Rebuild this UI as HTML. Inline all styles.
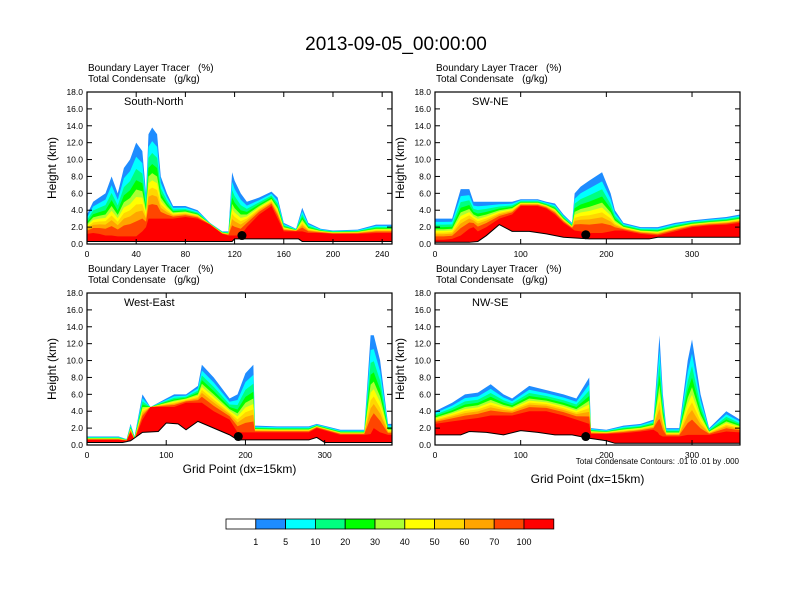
<!DOCTYPE html>
<html><head><meta charset="utf-8"><style>
body{margin:0;background:#fff;width:792px;height:612px;overflow:hidden}
svg{display:block;font-family:"Liberation Sans",sans-serif}
</style></head><body>
<svg id="c" width="792" height="612" xmlns="http://www.w3.org/2000/svg">
<text x="396" y="50" font-size="19" text-anchor="middle">2013-09-05_00:00:00</text>
</svg>
<script>
const colors=["#ffffff","#1e8cff","#00ffff","#00ff80","#00ff00","#aaff33","#ffff00","#ffd700","#ffa500","#ff4500","#ff0000"];
const levels=["1","5","10","20","30","40","50","60","70","100"];
const fracs=[1,0.85,0.72,0.6,0.5,0.42,0.34,0.26,0.16,0];
// panel 1 South-North
const p1x=[0,5,10,15,20,25,30,35,40,45,48,50,53,57,60,65,70,80,90,100,110,115,118,120,125,130,140,150,155,160,170,175,180,190,200,220,235,248];
const p1top=[3.5,5,5.5,6,8,6,9,10,12,11,6,13,13.8,13,8,6,4.5,4.5,4,2.5,1.5,1.5,8.5,7.5,6,5,5.5,6.2,5.5,2.5,1.8,4.3,2.5,1.8,1.6,1.7,2.3,2.3];
const p1red=[1.2,1.3,1.2,1,1,0.9,0.9,0.9,0.9,1.5,2,3,3,3,3,3,3,3.2,3,2.3,1.2,1,1,1,1,2,3.5,4.5,3,1.5,1.5,1.5,1.3,1.3,1.2,1.2,1.3,1.3];
const p1gx=[0,118,120,172,175,248];
const p1g=[0.3,0.3,0.6,0.6,0.3,0.3];
// panel 2 SW-NE
const p2x=[0,10,20,30,40,45,50,60,75,90,100,110,120,130,140,150,160,163,170,180,195,205,210,220,240,260,280,300,320,340,356];
const p2top=[3,3,3,6.5,6.5,5,5,5,5,5,5.3,5.3,5.3,5,4.8,3.5,2.5,6,6.8,7.5,8.5,6,4,2.5,2,2,2.5,2.8,3,3.2,3.5];
const p2red=[0.5,0.5,0.6,1,1.8,2,1.5,2,3,3.5,4.5,4.5,4.5,4.2,3.5,2.5,1.8,1.6,1.5,1.3,1.3,1.5,1.6,1.6,1.2,1,1.5,2,2.2,2.3,2.5];
const p2gx=[0,40,50,60,75,90,110,130,150,180,250,260,356];
const p2g=[0.2,0.2,0.3,1,2.3,1.5,1.5,1.2,0.8,0.6,0.6,0.8,0.8];
// panel 3 West-East
const p3x=[0,40,50,55,60,70,80,100,110,125,140,145,160,180,190,200,210,212,240,280,290,320,350,358,362,370,380,385];
const p3top=[1,1,0.7,2.5,1,6,4.5,5.5,6,6,7,9.5,8,5.5,6,8.5,9.5,2.3,2.2,2.2,2.5,1.8,1.8,13,13,10,2.5,2.5];
const p3red=[0.6,0.6,0.5,1.5,0.6,3,4.5,4.5,4.5,5,5,5,4,3,1.5,1.5,1.5,1.5,1.5,1.5,2,1.2,1.2,1.3,2,1.5,1.2,1.2];
const p3gx=[0,45,55,70,90,100,115,125,140,160,180,190,280,290,300,385];
const p3g=[0.3,0.3,0.5,1.5,1.6,2.6,2.5,1.8,2.8,2,1.2,0.6,0.6,0.9,0.3,0.3];
// panel 4 NW-SE
const p4x=[0,20,35,50,65,80,90,110,130,150,165,180,182,200,220,240,255,260,262,266,270,285,295,300,310,320,340,356];
const p4top=[4,5,6,6.2,7.2,6,5.5,7,6.5,6,5.5,8,2,1.8,2.3,2.5,3,10,13,6,2,2,10,12.5,6,2,4,3];
const p4red=[2.5,2.8,3,3.2,3.5,3.5,3.5,4,4,3.5,3,2.5,1.3,1.3,1.4,1.6,1.8,1.5,1.2,1,1,1,1.2,1.2,1.2,1.2,1.6,1.5];
const p4gx=[0,30,40,60,80,100,120,140,160,180,200,210,356];
const p4g=[1.2,1.2,1.6,1.5,1.2,1.7,1.5,1.2,1.2,0.8,0.5,0.2,0.2];

const panels=[
 {name:"south-north",label:"South-North",x0:87,y0:92,w:305,h:152,xmax:248,ticks:[0,40,80,120,160,200,240],xs:p1x,top:p1top,red:p1red,gx:p1gx,g:p1g,dot:[126,1.0],xt:false},
 {name:"sw-ne",label:"SW-NE",x0:435,y0:92,w:305,h:152,xmax:356,ticks:[0,100,200,300],xs:p2x,top:p2top,red:p2red,gx:p2gx,g:p2g,dot:[176,1.1],xt:false},
 {name:"west-east",label:"West-East",x0:87,y0:293,w:305,h:152,xmax:385,ticks:[0,100,200,300],xs:p3x,top:p3top,red:p3red,gx:p3gx,g:p3g,dot:[191,1.0],xt:true},
 {name:"nw-se",label:"NW-SE",x0:435,y0:293,w:305,h:152,xmax:356,ticks:[0,100,200,300],xs:p4x,top:p4top,red:p4red,gx:p4gx,g:p4g,dot:[176,1.0],xt:true,note:true}
];
const NS="http://www.w3.org/2000/svg";
const svg=document.getElementById("c");
function mk(tag,attrs,parent,text){const e=document.createElementNS(NS,tag);for(const k in attrs)e.setAttribute(k,attrs[k]);if(text!==undefined)e.textContent=text;(parent||svg).appendChild(e);return e;}
panels.forEach(p=>{
  const g=mk("g",{});
  
  
  const X=v=>p.x0+v/p.xmax*p.w, Y=v=>p.y0+p.h-v/18*p.h;
  const clip="clip-"+p.name;
  const cp=mk("clipPath",{id:clip},g);mk("rect",{x:p.x0,y:p.y0,width:p.w,height:p.h},cp);
  const fg=mk("g",{"clip-path":"url(#"+clip+")"},g);
  fracs.forEach((f,k)=>{
    let pts=p.xs.map((x,i)=>X(x)+","+Y(p.red[i]+(p.top[i]-p.red[i])*f));
    pts.push(X(p.xs[p.xs.length-1])+","+Y(0));pts.push(X(0)+","+Y(0));
    const poly=mk("polygon",{points:pts.join(" "),fill:colors[k+1]},fg);
    
    
  });
  let gp=p.gx.map((x,i)=>X(x)+","+Y(p.g[i]));
  gp.push(X(p.gx[p.gx.length-1])+","+Y(0));gp.push(X(0)+","+Y(0));
  const terr=mk("polygon",{points:gp.join(" "),fill:"#fff",stroke:"#000","stroke-width":1},fg);
  
  
  const dot=mk("circle",{cx:X(p.dot[0]),cy:Y(p.dot[1]),r:4.5,fill:"#000"},g);
  
  
  const fr=mk("rect",{x:p.x0,y:p.y0,width:p.w,height:p.h,fill:"none",stroke:"#000","stroke-width":1.2},g);
  
  
  for(let v=0;v<=18;v+=2){
    mk("line",{x1:p.x0,x2:p.x0+5,y1:Y(v),y2:Y(v),stroke:"#000"},g);
    mk("line",{x1:p.x0+p.w,x2:p.x0+p.w-5,y1:Y(v),y2:Y(v),stroke:"#000"},g);
    const t=mk("text",{x:p.x0-4,y:Y(v)+3,"font-size":8.5,"text-anchor":"end"},g,v.toFixed(1));
    
    
  }
  p.ticks.forEach(v=>{
    mk("line",{x1:X(v),x2:X(v),y1:p.y0+p.h,y2:p.y0+p.h-5,stroke:"#000"},g);
    mk("line",{x1:X(v),x2:X(v),y1:p.y0,y2:p.y0+5,stroke:"#000"},g);
    const t=mk("text",{x:X(v),y:p.y0+p.h+13,"font-size":8.5,"text-anchor":"middle"},g,String(v));
    
    
  });
  const l=mk("text",{x:p.x0+37,y:p.y0+13,"font-size":11},g,p.label);
  
  
  const h1=mk("text",{x:p.x0+1,y:p.y0-21,"font-size":10},g,"Boundary Layer Tracer\u00a0\u00a0\u00a0(%)");
  
  
  const h2=mk("text",{x:p.x0+1,y:p.y0-10,"font-size":10},g,"Total Condensate\u00a0\u00a0\u00a0(g/kg)");
  
  
  const cy=p.y0+p.h/2;
  const yt=mk("text",{x:0,y:0,"font-size":12,"text-anchor":"middle",transform:`translate(${p.x0-31},${cy}) rotate(-90)`},g,"Height (km)");
  
  
  if(p.xt){
    const xt=mk("text",{x:p.x0+p.w/2,y:p.note?p.y0+p.h+38:p.y0+p.h+28,"font-size":12,"text-anchor":"middle"},g,"Grid Point (dx=15km)");
    
    
  }
  if(p.note){
    const n=mk("text",{x:p.x0+p.w-1,y:p.y0+p.h+19,"font-size":8,"text-anchor":"end"},g,"Total Condensate Contours: .01 to .01 by .000");
    
    
  }
});
// colorbar
const cb=mk("g",{});


const bx=226,bw=29.8;
colors.forEach((c,i)=>{
  const r=mk("rect",{x:bx+i*bw,y:519,width:bw,height:10,fill:c,stroke:"#000","stroke-width":0.8},cb);
  
  
});
levels.forEach((t,i)=>{
  const e=mk("text",{x:bx+(i+1)*bw,y:545,"font-size":9,"text-anchor":"middle"},cb,t);
  
  
});
</script>
</body></html>
